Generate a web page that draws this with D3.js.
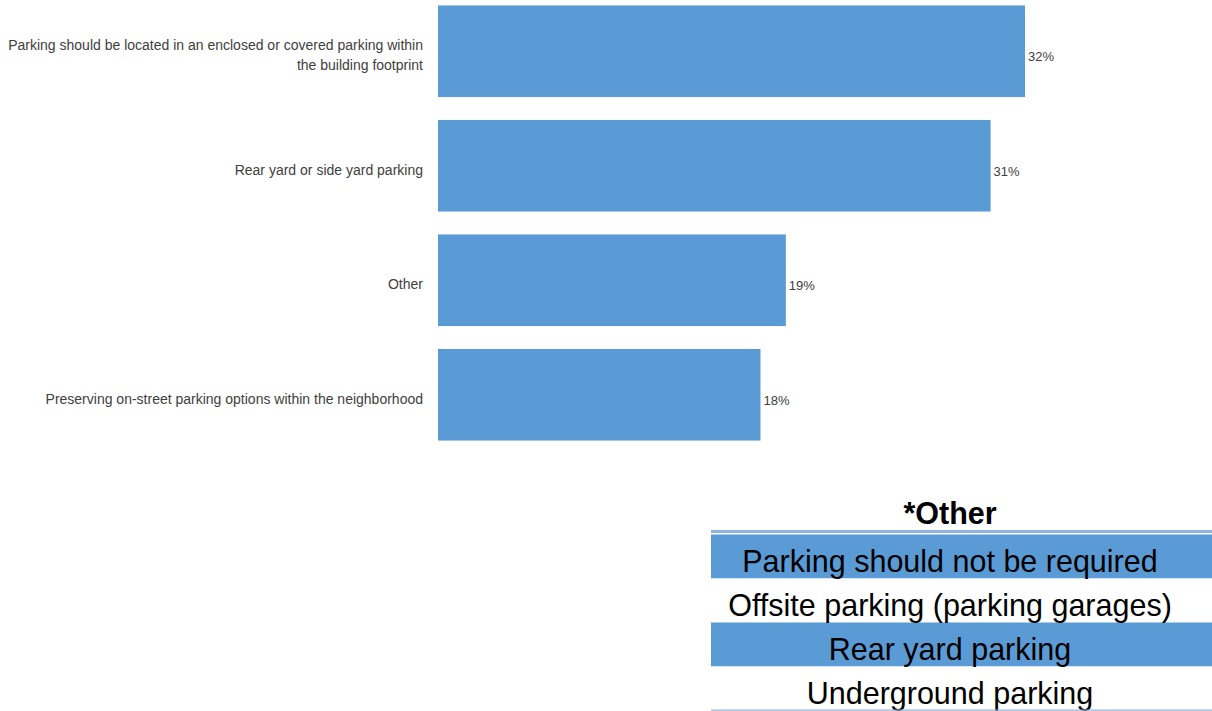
<!DOCTYPE html>
<html><head><meta charset="utf-8">
<script src="https://cdn.jsdelivr.net/npm/d3@7"></script>
<style>body{margin:0;background:#fff;}svg{display:block;}</style>
</head><body>
<script>
const categories = [
  ["Parking should be located in an enclosed or covered parking within", "the building footprint"],
  ["Rear yard or side yard parking"],
  ["Other"],
  ["Preserving on-street parking options within the neighborhood"]
];
const values = [32.4, 30.5, 19.2, 17.8];
const otherTitle = "*Other";
const otherItems = ["Parking should not be required", "Offsite parking (parking garages)", "Rear yard parking", "Underground parking"];

const W = 1212, H = 711;
const svg = d3.select("body").append("svg").attr("width", W).attr("height", H);
const blue = "#5B9BD5";
const font = "Liberation Sans, Arial, sans-serif";

const x = d3.scaleLinear().domain([0, 32.4]).range([438, 1025]);
const y = d3.scaleBand().domain(d3.range(categories.length)).range([-6, 452]).paddingInner(0.2).paddingOuter(0.1);

svg.selectAll("rect.bar").data(values).join("rect").attr("class","bar")
  .attr("x", x(0)).attr("y", (d,i)=>y(i)).attr("width", d=>x(d)-x(0)).attr("height", y.bandwidth())
  .attr("fill", blue);

svg.selectAll("text.val").data(values).join("text").attr("class","val")
  .attr("x", d=>x(d)+3).attr("y", (d,i)=>y(i)+y.bandwidth()/2+10)
  .attr("font-family",font).attr("font-size",13).attr("fill","#404040")
  .text(d=>Math.round(d)+"%");

const lab = svg.selectAll("text.cat").data(categories).join("text").attr("class","cat")
  .attr("text-anchor","end").attr("font-family",font).attr("font-size",14).attr("fill","#404040");
lab.each(function(lines,i){
  const c = y(i)+y.bandwidth()/2;
  const lh = 20;
  const y0 = c - (lines.length-1)*lh/2 + 9;
  d3.select(this).selectAll("tspan").data(lines).join("tspan")
    .attr("x",423).attr("y",(d,j)=>y0+j*lh).text(d=>d);
});

// table
const tx0 = 711, tx1 = 1212, cx = 950;
svg.append("text").attr("x",cx).attr("y",524).attr("text-anchor","middle")
  .attr("font-family",font).attr("font-size",30.5).attr("font-weight","bold").attr("fill","#000")
  .text(otherTitle);
svg.append("rect").attr("x",tx0).attr("y",530).attr("width",tx1-tx0).attr("height",3).attr("fill","#8EB4E3");
const ry = d3.scaleBand().domain(d3.range(otherItems.length)).range([534.5, 710.5]);
svg.selectAll("rect.row").data(otherItems).join("rect").attr("class","row")
  .attr("x",tx0).attr("y",(d,i)=>ry(i)).attr("width",tx1-tx0).attr("height",ry.bandwidth())
  .attr("fill",(d,i)=> i%2===0 ? blue : "#fff");
svg.selectAll("text.row").data(otherItems).join("text").attr("class","row")
  .attr("x",cx).attr("y",(d,i)=>ry(i)+ry.bandwidth()/2+15).attr("text-anchor","middle")
  .attr("font-family",font).attr("font-size",30.5).attr("fill","#000")
  .text(d=>d);
svg.append("rect").attr("x",tx0).attr("y",709.5).attr("width",tx1-tx0).attr("height",1.2).attr("fill","#8EB4E3");
</script>
</body></html>
